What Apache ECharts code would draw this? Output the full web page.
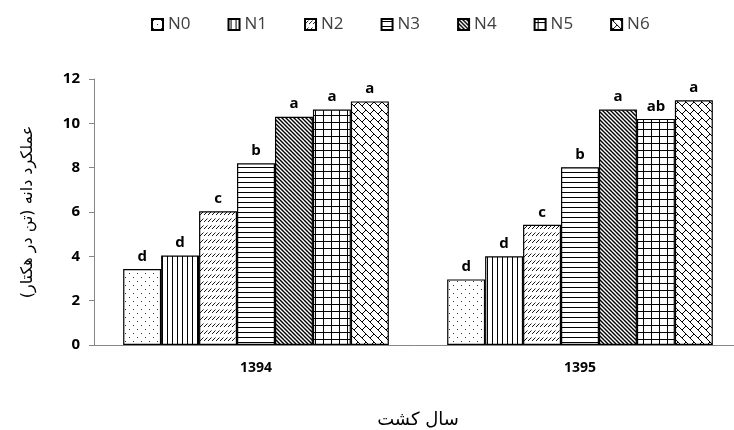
<!DOCTYPE html>
<html>
<head>
<meta charset="utf-8">
<script src="https://cdn.jsdelivr.net/npm/echarts@6/dist/echarts.min.js"></script>
<style>
  html, body { margin: 0; padding: 0; background: #fff; }
  #chart { width: 734px; height: 430px; }
</style>
</head>
<body>
<div id="chart"></div>
<script>
// data
var years = ['1394', '1395'];
var levels = ['N0', 'N1', 'N2', 'N3', 'N4', 'N5', 'N6'];
var N0 = [3.43, 2.96];
var N1 = [4.04, 4.0];
var N2 = [6.03, 5.42];
var N3 = [8.2, 8.02];
var N4 = [10.3, 10.62];
var N5 = [10.62, 10.2];
var N6 = [10.99, 11.04];
var letters = [
  ['d', 'd'], ['d', 'd'], ['c', 'c'], ['b', 'b'], ['a', 'a'], ['a', 'ab'], ['a', 'a']
];
var yTicks = [0, 2, 4, 6, 8, 10, 12];

// hatch patterns drawn on small canvases
function tile(w, h, draw) {
  var c = document.createElement('canvas');
  c.width = w; c.height = h;
  var ctx = c.getContext('2d');
  ctx.fillStyle = '#fff';
  ctx.fillRect(0, 0, w, h);
  ctx.strokeStyle = '#000';
  ctx.fillStyle = '#000';
  draw(ctx, w, h);
  return { image: c, repeat: 'repeat' };
}
function seg(ctx, x1, y1, x2, y2, w, h) {
  // draw a segment and its wrapped copies so the tile repeats cleanly
  for (var dx = -w; dx <= w; dx += w) {
    for (var dy = -h; dy <= h; dy += h) {
      ctx.beginPath();
      ctx.moveTo(x1 + dx, y1 + dy);
      ctx.lineTo(x2 + dx, y2 + dy);
      ctx.stroke();
    }
  }
}
var patterns = [
  tile(8, 8, function (ctx) { // dots
    ctx.fillStyle = '#333';
    ctx.fillRect(1, 1, 1, 1);
    ctx.fillRect(5, 5, 1, 1);
  }),
  tile(5, 5, function (ctx) { // vertical lines
    ctx.fillRect(2, 0, 1, 5);
  }),
  tile(4, 7, function (ctx, w, h) { // short slanted dashes
    ctx.lineWidth = 0.9;
    seg(ctx, 0, 5, 3.5, 1.5, w, h);
  }),
  tile(5, 5, function (ctx) { // horizontal lines
    ctx.fillRect(0, 2, 5, 1);
  }),
  tile(4, 4, function (ctx, w, h) { // dense diagonal
    ctx.lineWidth = 1.4;
    seg(ctx, 0, 0, 4, 4, w, h);
  }),
  tile(8, 7, function (ctx) { // grid
    ctx.fillRect(3, 0, 1, 7);
    ctx.fillRect(0, 3, 8, 1);
  }),
  tile(8, 8, function (ctx, w, h) { // diagonal brick
    ctx.lineWidth = 1;
    seg(ctx, 0, 0, 8, 8, w, h);
    seg(ctx, 2, 2, 6, -2, w, h);
  })
];

var values = [N0, N1, N2, N3, N4, N5, N6];
var series = levels.map(function (name, i) {
  return {
    name: name,
    type: 'bar',
    data: values[i],
    barGap: '0%',
    barCategoryGap: '18%',
    itemStyle: {
      color: patterns[i],
      borderColor: '#000',
      borderWidth: 1.2
    },
    label: {
      show: true,
      position: 'top',
      distance: 5,
      fontFamily: 'Open Sans',
      fontWeight: 'bold',
      fontSize: 15,
      color: '#000',
      formatter: function (p) { return letters[i][p.dataIndex]; }
    }
  };
});

var chart = echarts.init(document.getElementById('chart'));
chart.setOption({
  animation: false,
  backgroundColor: '#fff',
  legend: {
    data: levels,
    left: 146,
    top: 11,
    icon: 'rect',
    itemWidth: 11,
    itemHeight: 11,
    itemGap: 37,
    textStyle: { fontFamily: 'Open Sans', fontSize: 17, color: '#404040' }
  },
  grid: { left: 94, top: 79, width: 648, height: 266, outerBoundsMode: 'none' },
  xAxis: {
    type: 'category',
    data: years,
    name: 'سال کشت',
    nameLocation: 'middle',
    nameGap: 66,
    nameTextStyle: { fontFamily: 'DejaVu Sans', fontSize: 18, color: '#000' },
    axisLine: { lineStyle: { color: '#868686' } },
    axisTick: { length: 6, lineStyle: { color: '#868686' } },
    axisLabel: { margin: 16, fontFamily: 'Open Sans', fontWeight: 'bold', fontSize: 14, color: '#000' }
  },
  yAxis: {
    type: 'value',
    min: yTicks[0],
    max: yTicks[yTicks.length - 1],
    interval: 2,
    name: 'عملکرد دانه (تن در هکتار)',
    nameLocation: 'middle',
    nameRotate: 90,
    nameGap: 58,
    nameTextStyle: { fontFamily: 'DejaVu Sans', fontSize: 16, color: '#000' },
    axisLine: { show: true, lineStyle: { color: '#868686' } },
    axisTick: { show: true, length: 5, lineStyle: { color: '#868686' } },
    splitLine: { show: false },
    axisLabel: { margin: 14, fontFamily: 'Open Sans', fontWeight: 'bold', fontSize: 15, color: '#000' }
  },
  series: series
});
</script>
</body>
</html>
